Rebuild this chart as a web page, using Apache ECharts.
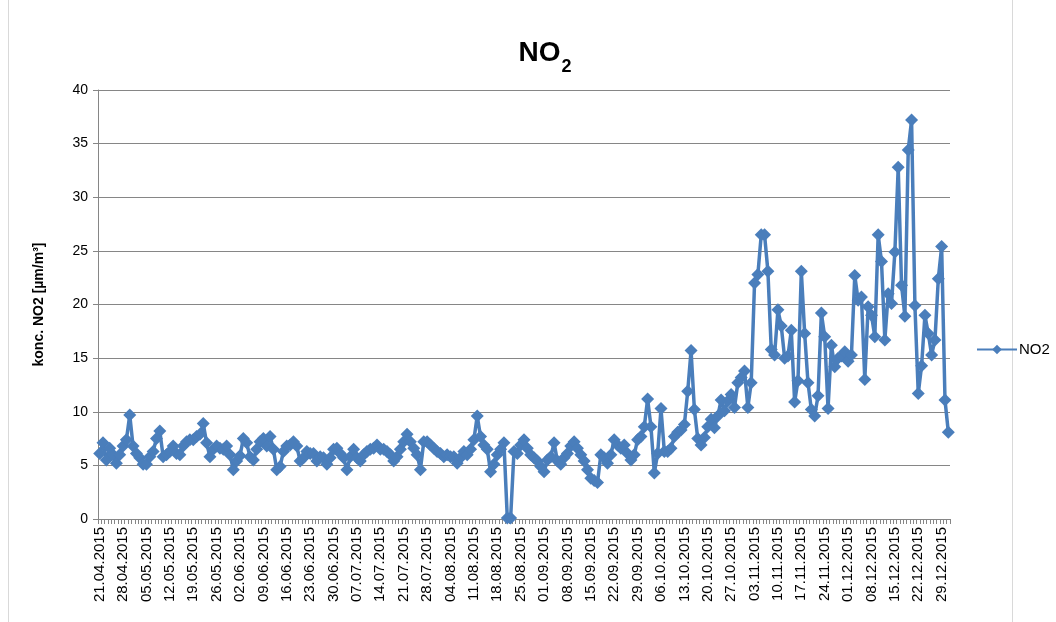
<!DOCTYPE html>
<html>
<head>
<meta charset="utf-8">
<script src="https://cdn.jsdelivr.net/npm/echarts@6/dist/echarts.min.js"></script>
<style>
html,body{margin:0;padding:0;background:#fff;}
#chart{width:1056px;height:622px;}
</style>
</head>
<body>
<div id="chart"></div>
<script>
// Daily NO2 values, 21.04.2015 – 31.12.2015
const startDate = [2015, 4, 21];
const no2 = [
  6.1, 7.1, 5.5, 6.6, 6.0, 5.2, 6.0, 6.8, 7.4, 9.7,
  6.8, 6.1, 5.7, 5.1, 5.1, 5.8, 6.3, 7.5, 8.2, 5.8,
  6.0, 6.3, 6.8, 6.1, 6.0, 6.8, 7.2, 7.4, 7.4, 7.7,
  7.9, 8.9, 7.1, 5.8, 6.5, 6.8, 6.6, 6.5, 6.8, 6.0,
  4.6, 5.4, 5.9, 7.5, 7.1, 5.8, 5.5, 6.5, 7.2, 7.5,
  6.8, 7.7, 6.5, 4.6, 4.9, 6.3, 6.8, 6.9, 7.2, 6.8,
  5.4, 5.7, 6.3, 6.1, 6.1, 5.4, 5.8, 5.7, 5.1, 5.7,
  6.5, 6.6, 6.1, 5.7, 4.6, 5.8, 6.5, 5.7, 5.4, 6.0,
  6.3, 6.5, 6.6, 6.9, 6.5, 6.5, 6.3, 6.0, 5.4, 5.8,
  6.5, 7.2, 7.9, 7.2, 6.6, 6.0, 4.6, 7.2, 7.2, 6.9,
  6.6, 6.3, 6.1, 5.8, 6.0, 5.8, 5.8, 5.2, 5.7, 6.3,
  6.0, 6.5, 7.4, 9.6, 7.7, 6.9, 6.5, 4.4, 5.1, 6.0,
  6.5, 7.1, 0.1, 0.1, 6.3, 6.1, 6.9, 7.4, 6.6, 6.0,
  5.7, 5.4, 4.9, 4.4, 5.5, 5.8, 7.1, 5.4, 5.1, 5.7,
  6.1, 6.8, 7.2, 6.6, 6.0, 5.4, 4.6, 3.8, 3.6, 3.4,
  6.0, 5.7, 5.2, 6.0, 7.4, 6.9, 6.6, 6.9, 6.1, 5.5,
  6.0, 7.4, 7.7, 8.6, 11.2, 8.6, 4.3, 6.1, 10.3, 6.3,
  6.3, 6.6, 7.7, 8.1, 8.3, 8.8, 11.9, 15.7, 10.2, 7.5,
  6.9, 7.6, 8.6, 9.3, 8.5, 9.6, 11.1, 10.1, 11.0, 11.6,
  10.4, 12.7, 13.2, 13.8, 10.4, 12.7, 22.0, 22.8, 26.5, 26.5,
  23.1, 15.8, 15.3, 19.5, 18.0, 15.0, 15.2, 17.6, 10.9, 12.9,
  23.1, 17.3, 12.7, 10.2, 9.6, 11.5, 19.2, 17.0, 10.3, 16.2,
  14.2, 15.0, 15.2, 15.6, 14.7, 15.3, 22.7, 20.4, 20.7, 13.0,
  19.8, 19.0, 17.0, 26.5, 24.0, 16.7, 21.0, 20.1, 24.9, 32.8,
  21.8, 18.9, 34.4, 37.2, 19.9, 11.7, 14.3, 19.0, 17.3, 15.3,
  16.7, 22.4, 25.4, 11.1, 8.1
];
const yTicks = [0, 5, 10, 15, 20, 25, 30, 35, 40];

// build the date categories dd.mm.yyyy
function pad(n){ return (n < 10 ? '0' : '') + n; }
const categories = [];
{
  const d = new Date(Date.UTC(startDate[0], startDate[1] - 1, startDate[2]));
  for (let i = 0; i < no2.length; i++) {
    categories.push(pad(d.getUTCDate()) + '.' + pad(d.getUTCMonth() + 1) + '.' + d.getUTCFullYear());
    d.setUTCDate(d.getUTCDate() + 1);
  }
}

const FONT = '"Liberation Sans", Arial, sans-serif';
const chart = echarts.init(document.getElementById('chart'), null, {renderer: 'canvas'});
chart.setOption({
  animation: false,
  backgroundColor: '#ffffff',
  textStyle: {fontFamily: FONT},
  graphic: [{
    type: 'rect',
    shape: {x: 8.5, y: -2, width: 1004, height: 630},
    style: {fill: 'none', stroke: '#d9d9d9', lineWidth: 1},
    silent: true,
    z: -1
  }],
  title: {
    text: '{a|NO}{b|2}',
    left: 540,
    textAlign: 'center',
    top: 28,
    textStyle: {
      rich: {
        a: {fontSize: 28, fontWeight: 'bold', color: '#000', fontFamily: FONT, verticalAlign: 'bottom', lineHeight: 34},
        b: {fontSize: 18, fontWeight: 'bold', color: '#000', fontFamily: FONT, verticalAlign: 'bottom', lineHeight: 24, padding: [0,0,-9,1]}
      }
    }
  },
  legend: {
    data: ['NO2'],
    left: 976,
    top: 342,
    padding: 0,
    itemWidth: 40,
    itemHeight: 12,
    itemGap: 4,
    textStyle: {fontSize: 15, color: '#000', fontFamily: FONT, padding: [0,0,0,-3]}
  },
  grid: {left: 98, right: 106, top: 90, bottom: 103, containLabel: false},
  xAxis: {
    type: 'category',
    data: categories,
    boundaryGap: true,
    axisLine: {lineStyle: {color: '#868686', width: 1}},
    axisTick: {show: true, interval: 0, length: 5, lineStyle: {color: '#868686'}},
    axisLabel: {
      interval: 6,
      rotate: 90,
      fontSize: 15,
      color: '#000',
      margin: 8,
      fontFamily: FONT
    },
    splitLine: {show: false}
  },
  yAxis: {
    type: 'value',
    min: yTicks[0],
    max: yTicks[yTicks.length - 1],
    interval: 5,
    name: 'konc. NO2 [µm/m³]',
    nameLocation: 'middle',
    nameGap: 52,
    nameTextStyle: {fontSize: 14, fontWeight: 'bold', color: '#000', fontFamily: FONT},
    axisLine: {show: true, lineStyle: {color: '#868686'}},
    axisTick: {show: true, length: 5, lineStyle: {color: '#868686'}},
    axisLabel: {fontSize: 14, color: '#000', margin: 10, fontFamily: FONT},
    splitLine: {show: true, lineStyle: {color: '#868686', width: 1}}
  },
  series: [{
    name: 'NO2',
    type: 'line',
    data: no2,
    symbol: 'diamond',
    symbolSize: 13,
    showAllSymbol: true,
    itemStyle: {color: '#4A7EBB'},
    lineStyle: {color: '#4A7EBB', width: 3.5},
    emphasis: {disabled: true}
  }]
});
</script>
</body>
</html>
